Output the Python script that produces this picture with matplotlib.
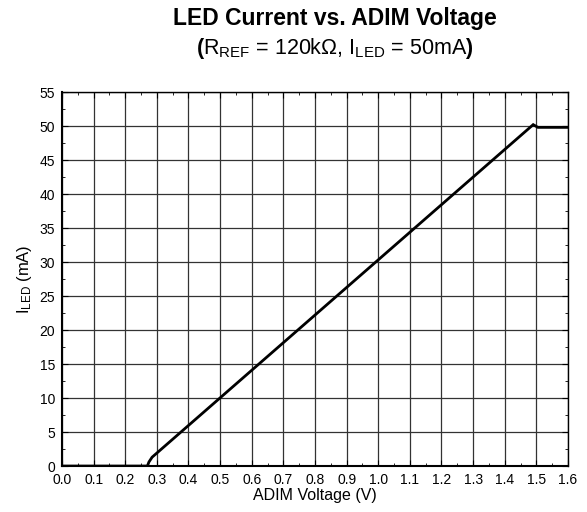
import matplotlib
matplotlib.use("Agg")
import matplotlib.pyplot as plt
from matplotlib.ticker import MultipleLocator

plt.rcParams['font.family'] = ['Liberation Sans', 'DejaVu Sans']
plt.rcParams['mathtext.fontset'] = 'custom'
plt.rcParams['mathtext.rm'] = 'Liberation Sans'
plt.rcParams['mathtext.bf'] = 'Liberation Sans:bold'

# ADIM voltage (V) vs LED current (mA)
adim_v = [0.0, 0.27, 0.275, 0.285, 1.49, 1.505, 1.6]
i_led = [0.0, 0.0, 0.6, 1.3, 50.2, 49.8, 49.8]

fig = plt.figure(figsize=(5.87, 5.12), dpi=100)
ax = fig.add_axes([0.1056, 0.0898, 0.862, 0.7305])

ax.plot(adim_v, i_led, color='black', linewidth=2, solid_joinstyle='miter')

ax.set_xlim(0, 1.6)
ax.set_ylim(0, 55)
ax.xaxis.set_major_locator(MultipleLocator(0.1))
ax.xaxis.set_minor_locator(MultipleLocator(0.05))
ax.yaxis.set_major_locator(MultipleLocator(5))
ax.yaxis.set_minor_locator(MultipleLocator(2.5))
ax.set_xticklabels([f'{v:.1f}' for v in ax.get_xticks()])
ax.tick_params(which='both', direction='in', top=True, right=True, labelsize=10)
ax.tick_params(which='major', length=4)
ax.tick_params(which='minor', length=2)
ax.tick_params(axis='x', which='major', pad=5)
ax.tick_params(axis='y', which='major', pad=5)
ax.grid(True, which='major', color='#333333', linewidth=0.9)

for s in ax.spines.values():
    s.set_linewidth(1.0)
ax.spines['left'].set_linewidth(1.5)
ax.spines['bottom'].set_linewidth(1.5)

ax.set_xlabel('ADIM Voltage (V)', fontsize=11.5, labelpad=1)
ax.set_ylabel(r'$\mathregular{I_{LED}}$ (mA)', fontsize=12, labelpad=4)

fig.text(0.571, 0.963, 'LED Current vs. ADIM Voltage', ha='center', va='center',
         fontsize=16.5, fontweight='bold')
fig.text(0.571, 0.906,
         r'$\mathbf{(}\mathregular{R_{REF}}$ = 120k$\Omega$, $\mathregular{I_{LED}}$ = 50mA$\mathbf{)}$',
         ha='center', va='center', fontsize=15.5)

fig.savefig('out.png', dpi=100)
